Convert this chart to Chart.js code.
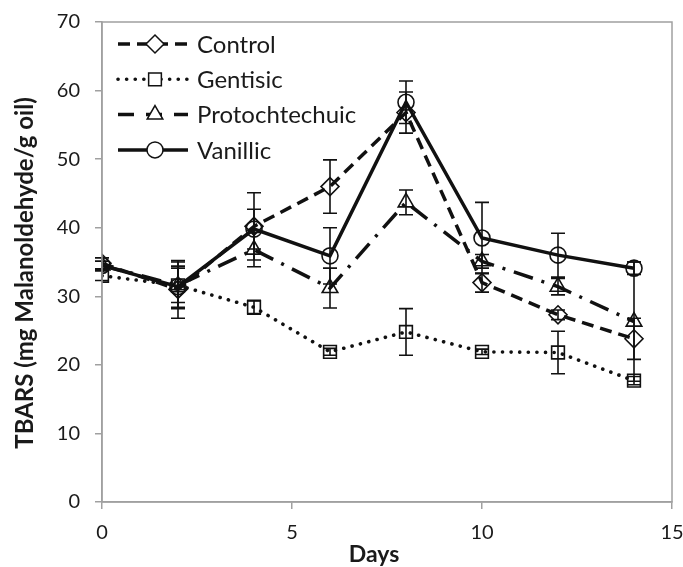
<!DOCTYPE html>
<html>
<head>
<meta charset="utf-8">
<script src="https://cdn.jsdelivr.net/npm/chart.js@4/dist/chart.umd.min.js"></script>
<style>
  html, body { margin: 0; padding: 0; background: #fff; }
  #wrap { width: 683px; height: 567px; }
</style>
</head>
<body>
<div id="wrap"><canvas id="chart" width="683" height="567"></canvas></div>
<script>
const days = [0, 2, 4, 6, 8, 10, 12, 14];
const seriesNames = ["Control", "Gentisic", "Protochtechuic", "Vanillic"];

const control = [34.8, 31.0, 40.2, 46.0, 56.8, 32.0, 27.3, 23.8];
const controlErr = [0.8, 4.2, 4.9, 3.9, 3.0, 1.4, 0.7, 3.0];
const gentisic = [33.0, 31.6, 28.4, 21.9, 24.8, 21.9, 21.8, 17.7];
const gentisicErr = [0.7, 3.4, 1.0, 0.5, 3.4, 0.4, 3.1, 0.6];
const protochtechuic = [34.5, 31.6, 36.8, 31.2, 43.7, 35.1, 31.4, 26.3];
const protochtechuicErr = [0.6, 2.5, 2.5, 2.9, 1.8, 1.0, 1.2, 8.7];
const vanillic = [34.5, 31.4, 39.8, 35.9, 58.3, 38.5, 36.0, 34.1];
const vanillicErr = [0.6, 3.0, 2.9, 4.1, 3.1, 5.2, 3.2, 0.9];

const xTicks = [0, 5, 10, 15];
const yTicks = [0, 10, 20, 30, 40, 50, 60, 70];
const xTitle = "Days";
const yTitle = "TBARS (mg Malanoldehyde/g oil)";

const ink = "#111111";
const textColor = "#1a1a1a";
const axisGray = "#a0a0a0";
const fontFamily = "Lato, 'Open Sans', sans-serif";

Chart.defaults.font.family = fontFamily;
Chart.defaults.color = textColor;

function toPoints(values) {
  return values.map((v, i) => ({ x: days[i], y: v }));
}

const errors = [controlErr, gentisicErr, protochtechuicErr, vanillicErr];

// 誤差棒（上下のキャップ付き）
const errorBarPlugin = {
  id: "errorBars",
  afterDatasetsDraw(chart) {
    const { ctx } = chart;
    const xs = chart.scales.x;
    const ys = chart.scales.y;
    ctx.save();
    ctx.strokeStyle = ink;
    ctx.lineWidth = 1.6;
    chart.data.datasets.forEach((ds, di) => {
      ds.data.forEach((p, i) => {
        const e = errors[di][i];
        const x = xs.getPixelForValue(p.x);
        const top = ys.getPixelForValue(p.y + e);
        const bot = ys.getPixelForValue(p.y - e);
        ctx.beginPath();
        ctx.moveTo(x, top);
        ctx.lineTo(x, bot);
        ctx.moveTo(x - 7, top);
        ctx.lineTo(x + 7, top);
        ctx.moveTo(x - 7, bot);
        ctx.lineTo(x + 7, bot);
        ctx.stroke();
      });
    });
    ctx.restore();
  },
};

// 枠線・軸タイトル・凡例
const frameLegendPlugin = {
  id: "frameLegend",
  afterDraw(chart) {
    const { ctx, chartArea } = chart;
    ctx.save();
    ctx.strokeStyle = axisGray;
    ctx.lineWidth = 1.5;
    ctx.strokeRect(chartArea.left, chartArea.top, chartArea.right - chartArea.left, chartArea.bottom - chartArea.top);

    // 軸タイトル（元図では少し左・下寄り）
    ctx.fillStyle = textColor;
    ctx.font = `bold 23px ${fontFamily}`;
    ctx.textAlign = "center";
    ctx.textBaseline = "middle";
    ctx.fillText(xTitle, 374, 555);
    ctx.save();
    ctx.translate(25, 273);
    ctx.rotate(-Math.PI / 2);
    ctx.font = `bold 24px ${fontFamily}`;
    ctx.fillText(yTitle, 0, 0);
    ctx.restore();

    chart.data.datasets.forEach((ds, i) => {
      const y = 44 + i * 35.3;
      ctx.save();
      ctx.strokeStyle = ink;
      ctx.lineWidth = ds.borderWidth;
      ctx.lineCap = ds.borderCapStyle || "butt";
      ctx.setLineDash(ds.legendDash || ds.borderDash || []);
      ctx.beginPath();
      ctx.moveTo(118, y);
      ctx.lineTo(188, y);
      ctx.stroke();
      ctx.restore();
      ctx.save();
      ctx.strokeStyle = ink;
      ctx.fillStyle = "#ffffff";
      Chart.helpers.drawPoint(ctx, {
        pointStyle: ds.pointStyle,
        radius: ds.pointRadius,
        rotation: 0,
        borderWidth: ds.pointBorderWidth,
      }, 155, y);
      ctx.restore();
      ctx.fillStyle = textColor;
      ctx.font = `24px ${fontFamily}`;
      ctx.textAlign = "left";
      ctx.textBaseline = "middle";
      ctx.fillText(ds.label, 197, y + 1);
    });
    ctx.restore();
  },
};

function lineDataset(label, values, opts) {
  return Object.assign({
    label,
    data: toPoints(values),
    borderColor: ink,
    borderWidth: 3.5,
    tension: 0,
    pointBorderColor: ink,
    pointBackgroundColor: "rgba(255,255,255,0)",
    pointBorderWidth: 1.6,
  }, opts);
}

new Chart(document.getElementById("chart"), {
  type: "line",
  data: {
    datasets: [
      lineDataset(seriesNames[0], control, {
        borderDash: [12, 7], pointStyle: "rectRot", pointRadius: 9,
      }),
      lineDataset(seriesNames[1], gentisic, {
        borderDash: [0.1, 8.5], borderCapStyle: "round", borderWidth: 3.6,
        pointStyle: "rect", pointRadius: 9,
      }),
      lineDataset(seriesNames[2], protochtechuic, {
        borderDash: [20, 9, 3, 9], legendDash: [16, 12], pointStyle: "triangle", pointRadius: 9,
      }),
      lineDataset(seriesNames[3], vanillic, {
        pointStyle: "circle", pointRadius: 8,
      }),
    ],
  },
  options: {
    responsive: false,
    animation: false,
    events: [],
    layout: { padding: { top: 22, right: 11, left: 0, bottom: 0 } },
    plugins: {
      legend: { display: false },
      tooltip: { enabled: false },
    },
    scales: {
      x: {
        type: "linear",
        min: 0,
        max: 15,
        afterBuildTicks: (s) => { s.ticks = xTicks.map((v) => ({ value: v })); },
        afterFit: (s) => { s.height = 65; s.paddingLeft = 0; s.paddingRight = 0; },
        grid: { display: true, drawOnChartArea: false, color: axisGray, lineWidth: 1.5, tickLength: 7 },
        border: { color: axisGray, width: 1.5 },
        ticks: { font: { size: 20 }, padding: 12, color: textColor },
        title: { display: false },
      },
      y: {
        type: "linear",
        min: 0,
        max: 70,
        afterBuildTicks: (s) => { s.ticks = yTicks.map((v) => ({ value: v })); },
        afterFit: (s) => { s.width = 102; s.paddingTop = 0; s.paddingBottom = 0; },
        grid: { display: true, drawOnChartArea: false, color: axisGray, lineWidth: 1.5, tickLength: 7 },
        border: { color: axisGray, width: 1.5 },
        ticks: { font: { size: 20 }, padding: 15, color: textColor },
        title: { display: false },
      },
    },
  },
  plugins: [errorBarPlugin, frameLegendPlugin],
});
</script>
</body>
</html>
